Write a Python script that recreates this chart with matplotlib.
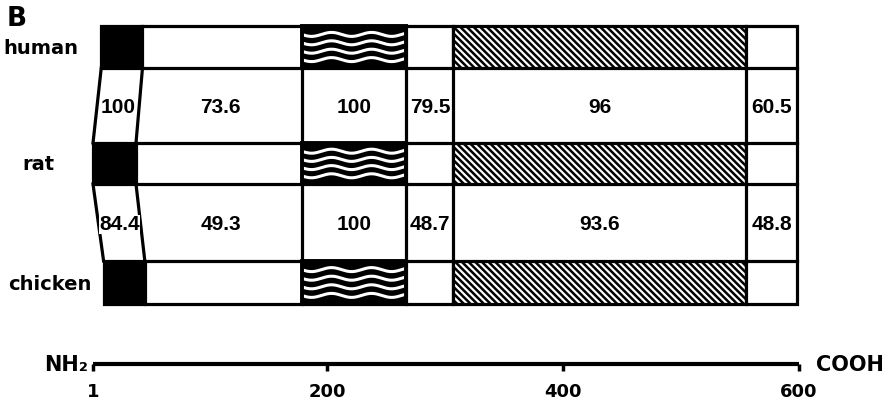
import numpy as np
import matplotlib
matplotlib.use('Agg')
import matplotlib.pyplot as plt
from matplotlib.patches import Rectangle

# ---------------- data ----------------
species = ['human', 'rat', 'chicken']
human_bounds = [8, 43, 178, 267, 307, 555, 599]
rat_bounds = [1, 37.5, 178, 267, 307, 555, 599]
chicken_bounds = [10, 45, 178, 267, 307, 555, 599]
segment_kinds = ['black', 'plain', 'wavy', 'plain', 'hatch', 'plain']
identity_human_rat = [100, 73.6, 100, 79.5, 96, 60.5]
identity_rat_chicken = [84.4, 49.3, 100, 48.7, 93.6, 48.8]
scale_ticks = [1, 200, 400, 600]
panel_label = 'B'
end_labels = ['NH\u2082', 'COOH']

# ---------------- layout ----------------
PX0, PXR = 93.0, 1.178          # pixel of residue 1, pixels per residue


def px2x(px):
    return 1 + (px - PX0) / PXR


row_top = [26, 143, 261]
row_bot = [68, 184, 304]
label_cx = [41, 38, 50]
LW = 2.3

plt.rcParams['hatch.linewidth'] = 1.8

fig = plt.figure(figsize=(8.9, 4), dpi=100)
ax = fig.add_axes([0, 0, 1, 1])
ax.set_xlim(px2x(0), px2x(890))
ax.set_ylim(400, 0)
ax.axis('off')

all_bounds = [human_bounds, rat_bounds, chicken_bounds]

for i, (name, b) in enumerate(zip(species, all_bounds)):
    top, bot = row_top[i], row_bot[i]
    for j, kind in enumerate(segment_kinds):
        x0, x1 = b[j], b[j + 1]
        fc = 'black' if kind in ('black', 'wavy') else 'white'
        hatch = '\\' * 5 if kind == 'hatch' else None
        r = Rectangle((x0, top), x1 - x0, bot - top, facecolor=fc,
                      edgecolor='black', lw=LW, hatch=hatch, zorder=2)
        ax.add_patch(r)
        if kind == 'wavy':
            xs = np.linspace(x0, x1, 300)
            h = bot - top
            for k in range(4):
                ys = top + 0.2 * h + k * 0.2 * h + 2.0 * np.sin(2 * np.pi * (xs - x0) / 34.0)
                ln, = ax.plot(xs, ys, color='white', lw=2.2, zorder=3,
                              solid_capstyle='butt')
                ln.set_clip_path(r)
            ax.add_patch(Rectangle((x0, top), x1 - x0, bot - top, facecolor='none',
                                   edgecolor='black', lw=LW + 0.5, zorder=4))
    ax.text(px2x(label_cx[i]), (top + bot) / 2 + 7, name, ha='center', va='baseline',
            fontsize=14, fontweight='bold', family='DejaVu Sans')

# identity bands
bands = [(0, identity_human_rat), (1, identity_rat_chicken)]
for i, vals in bands:
    bu, bl = all_bounds[i], all_bounds[i + 1]
    yt, yb = row_bot[i], row_top[i + 1]
    for j in range(len(bu)):
        ax.plot([bu[j], bl[j]], [yt, yb], color='black', lw=LW, zorder=2,
                solid_capstyle='projecting')
    for j, v in enumerate(vals):
        cx = (bu[j] + bu[j + 1] + bl[j] + bl[j + 1]) / 4
        kw = {}
        if j == 0:
            kw['bbox'] = dict(facecolor='white', edgecolor='none', pad=0.3)
        ax.text(cx, (yt + yb) / 2 + 7.5, f'{v:g}', ha='center', va='baseline',
                fontsize=15, fontweight='bold', family='Liberation Sans', zorder=5, **kw)

ax.text(px2x(7), 26, panel_label, ha='left', va='baseline', fontsize=19,
        fontweight='bold', family='DejaVu Sans')

# scale bar axis
ax2 = fig.add_axes([0, (400 - 364) / 400, 1, 0.05])
ax2.set_xlim(px2x(0), px2x(890))
ax2.patch.set_visible(False)
for s in ('top', 'left', 'right'):
    ax2.spines[s].set_visible(False)
ax2.spines['bottom'].set_linewidth(3)
ax2.spines['bottom'].set_bounds(scale_ticks[0], scale_ticks[-1])
ax2.spines['bottom'].set_capstyle('butt')
ax2.set_yticks([])
ax2.set_xticks(scale_ticks)
ax2.set_xticklabels([str(t) for t in scale_ticks])
ax2.tick_params(axis='x', direction='out', length=5, width=2.5, pad=9,
                labelsize=13)
for lab in ax2.get_xticklabels():
    lab.set_fontweight('bold')
    lab.set_family('DejaVu Sans')

ax.text(px2x(88), 371, end_labels[0], ha='right', va='baseline', fontsize=15,
        fontweight='bold', family='DejaVu Sans')
ax.text(px2x(816), 371, end_labels[1], ha='left', va='baseline', fontsize=15,
        fontweight='bold', family='DejaVu Sans')

fig.savefig('out.png', dpi=100)
